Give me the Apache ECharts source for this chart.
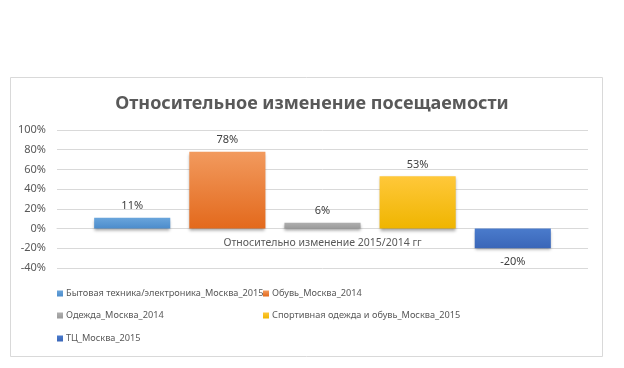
<!DOCTYPE html>
<html>
<head>
<meta charset="utf-8">
<script src="https://cdn.jsdelivr.net/npm/echarts@6/dist/echarts.min.js"></script>
<style>
html,body{margin:0;padding:0;background:#fff;}
#chart{width:624px;height:368px;}
</style>
</head>
<body>
<div id="chart"></div>
<script>
var titleText = 'Относительное изменение посещаемости';
var categories = ['Относительно изменение 2015/2014 гг'];
var seriesNames = [
  'Бытовая техника/электроника_Москва_2015',
  'Обувь_Москва_2014',
  'Одежда_Москва_2014',
  'Спортивная одежда и обувь_Москва_2015',
  'ТЦ_Москва_2015'
];
var values = [0.11, 0.78, 0.06, 0.53, -0.20];
var yTicks = { min: -0.4, max: 1.0, interval: 0.2 };

var colorsTop = ['#6AA5DC', '#F29A5E', '#AFAFAF', '#FFC83A', '#4A7BCC'];
var colorsBottom = ['#4C8CCB', '#E3691C', '#9A9A9A', '#EFB500', '#3A66B8'];

var font = '"Noto Sans", sans-serif';

var chart = echarts.init(document.getElementById('chart'), null, { renderer: 'canvas' });

var series = seriesNames.map(function (name, i) {
  var v = values[i];
  return {
    name: name,
    type: 'bar',
    barGap: '25%',
    barCategoryGap: '14%',
    data: [{
      value: v,
      label: {
        show: true,
        position: v >= 0 ? 'top' : 'bottom',
        distance: v >= 0 ? 6 : 8
      }
    }],
    label: {
      show: true,
      color: '#404040',
      fontSize: 11,
      fontFamily: font,
      formatter: function (p) { return Math.round(p.value * 100) + '%'; }
    },
    itemStyle: {
      color: new echarts.graphic.LinearGradient(0, 0, 0, 1, [
        { offset: 0, color: colorsTop[i] },
        { offset: 1, color: colorsBottom[i] }
      ]),
      shadowColor: 'rgba(0,0,0,0.35)',
      shadowBlur: 3,
      shadowOffsetY: 2
    }
  };
});

var legendPos = [
  { left: 57, top: 289 },
  { left: 263, top: 289 },
  { left: 57, top: 311 },
  { left: 263, top: 311 },
  { left: 57, top: 334 }
];
var legends = seriesNames.map(function (name, i) {
  return {
    data: [name],
    left: legendPos[i].left,
    top: legendPos[i].top,
    padding: 0,
    icon: 'rect',
    itemWidth: 6,
    itemHeight: 6,
    itemGap: 3,
    textStyle: { color: '#595959', fontSize: 9.2, fontFamily: font, padding: [0, 0, 0, -2] },
    selectedMode: false
  };
});

chart.setOption({
  animation: false,
  backgroundColor: '#fff',
  color: colorsBottom,
  title: {
    text: titleText,
    left: 307,
    textAlign: 'center',
    top: 90,
    textStyle: { color: '#595959', fontSize: 18, fontWeight: 'bold', fontFamily: font }
  },
  graphic: [{
    type: 'rect',
    shape: { x: 10.5, y: 77.5, width: 592, height: 279 },
    style: { fill: 'none', stroke: '#D9D9D9', lineWidth: 1 },
    z: -10
  }],
  legend: legends,
  grid: { left: 57, right: 36, top: 130, bottom: 100, containLabel: false },
  xAxis: {
    type: 'category',
    data: categories,
    offset: -39.4,
    axisLine: { show: true, onZero: false, lineStyle: { color: '#D9D9D9' } },
    axisTick: { show: false },
    axisLabel: { color: '#595959', fontSize: 10.5, fontFamily: font, margin: 9 }
  },
  yAxis: {
    type: 'value',
    min: yTicks.min,
    max: yTicks.max,
    interval: yTicks.interval,
    axisLine: { show: false },
    axisTick: { show: false },
    splitLine: { lineStyle: { color: '#D9D9D9' } },
    axisLabel: {
      color: '#595959', fontSize: 11, fontFamily: font, margin: 11,
      formatter: function (v) { return Math.round(v * 100) + '%'; }
    }
  },
  series: series
});
</script>
</body>
</html>
